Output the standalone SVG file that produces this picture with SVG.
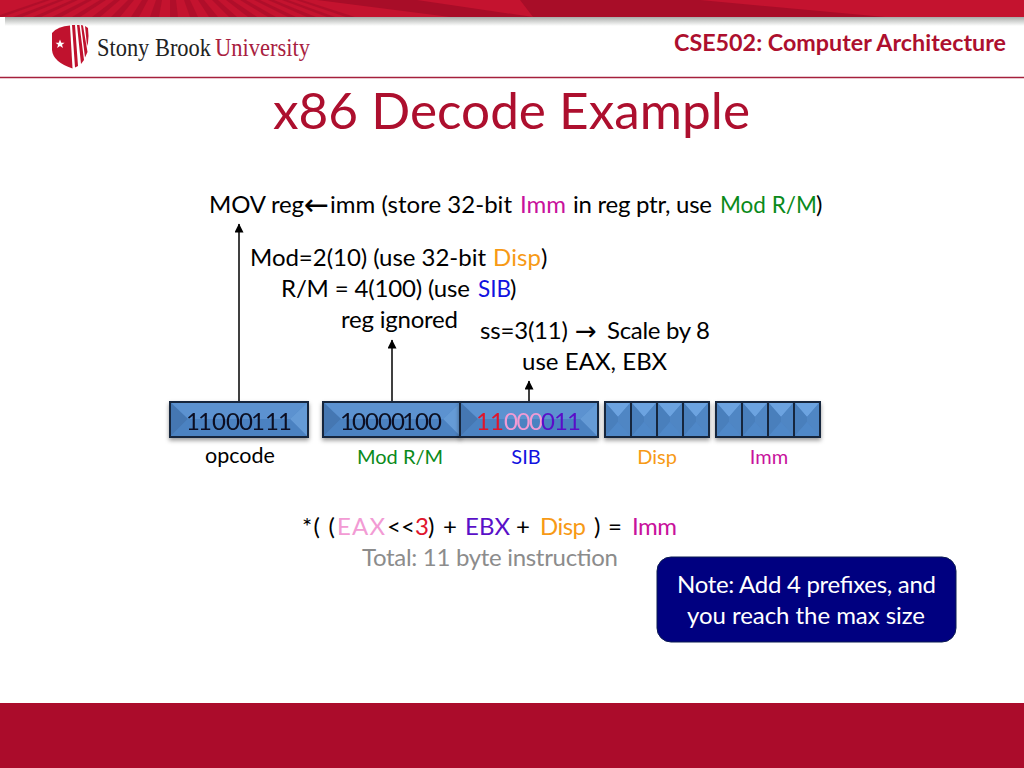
<svg xmlns="http://www.w3.org/2000/svg" width="1024" height="768" viewBox="0 0 1024 768">
<style>
.t{font-family:Lato,"Open Sans",sans-serif;font-size:24px;fill:#000}
.mid{text-anchor:middle}
.s{font-size:20px;text-anchor:middle}
.n{fill:#fff}
.h{font-family:Lato,"Open Sans",sans-serif;fill:#ad0f2e}
.b{fill:#0a1020;text-anchor:middle}
.ar{font-family:"DejaVu Sans",sans-serif}
.conn{stroke:#000;stroke-width:1.5;fill:none;marker-end:url(#ah)}
.o{fill:#f79a16}.m{fill:#c8129c}.g{fill:#0a8a1a}.bl{fill:#1212e0}.r{fill:#e0142c}.p{fill:#f29bd4}.v{fill:#5a10c8}.gr{fill:#8c8c8c}
.edge{fill:none;stroke:#14263c;stroke-width:2}
</style>
<defs>
<marker id="ah" markerUnits="userSpaceOnUse" markerWidth="10" markerHeight="10" refX="8.500" refY="4.500" orient="auto"><path d="M0 0L9 4.500L0 9z" fill="#000"/></marker>
<linearGradient id="shadow" x1="0" y1="0" x2="0" y2="1"><stop offset="0" stop-color="#a8aaa8"/><stop offset="0.35" stop-color="#c8cac8"/><stop offset="1" stop-color="#fff"/></linearGradient>
<filter id="ds" x="-10%" y="-10%" width="120%" height="140%"><feDropShadow dx="0" dy="2.500" stdDeviation="2" flood-color="#000" flood-opacity="0.4"/></filter>
<g id="c"><rect width="26" height="35" fill="#4f86c5"/><path d="M0 0H26L13 15z" fill="#6ca3e0"/><path d="M0 0L13 15V20L0 35z" fill="#4a7fbc"/><path d="M26 0L13 15V20L26 35z" fill="#4f86c4"/><path d="M0 35L13 20L26 35z" fill="#5088c8"/><rect width="26" height="35" class="edge"/></g>
<g id="w"><rect width="138" height="35" fill="#4f86c6"/><path d="M0 0H138L120 17H18z" fill="#5b92d0"/><path d="M0 0L18 17L0 35z" fill="#4577b2"/><path d="M138 0L120 17L138 35z" fill="#659bd6"/><path d="M0 35L18 17H120L138 35z" fill="#4c82c1"/></g>
</defs>
<rect width="1024" height="768" fill="#fff"/>
<g id="banner">
<rect x="5" y="17" width="1019" height="9" fill="url(#shadow)"/>
<rect width="1024" height="17" fill="#c4132f"/>
<path d="M317 0H417L533 17H450zM520 0H700L885 17H533z" fill="#a80d28"/>
<path d="M44 0H50L2 17H-6zM58 0H64L22 17H13zM72 0H78L41 17H33zM86 0H92L61 17H52zM100 0H106L80 17H72zM114 0H120L100 17H92zM128 0H134L120 17H111zM142 0H148L139 17H131zM156 0H162L159 17H150zM170 0H176L178 17H170zM184 0H190L198 17H190zM198 0H204L218 17H209zM212 0H218L237 17H229zM226 0H232L257 17H248zM240 0H246L276 17H268zM254 0H260L296 17H288zM268 0H274L316 17H307zM282 0H288L335 17H327zM296 0H302L355 17H346z" fill="#a80d28" opacity="0.7"/>
</g>
<path d="M0 77.500H1024" stroke="#a5203c" stroke-width="1.500"/>
<g id="logo">
<path d="M52 33Q58 26 70 25.500L72.500 68.500Q53 62 52 50z" fill="#c0122e"/>
<path d="M72 25H75L78 66L75 67.500zM77 25H79.500L84 60L81 64zM81 25L83 25.500L87.500 52L85 57.500zM85 26L88 28Q89 36 88 43L87 46z" fill="#c0122e"/>
<path d="M60 39.500l1.300 3.200h3.300l-2.600 2.100 1 3.300-3-2-2.900 2 1-3.300-2.600-2.100h3.200z" fill="#fff"/>
<text x="97" y="55.500" font-family="Liberation Serif,serif" font-size="25" fill="#222" textLength="114" lengthAdjust="spacingAndGlyphs">Stony Brook</text>
<text x="215" y="55.500" font-family="Liberation Serif,serif" font-size="25" fill="#a8203e" textLength="95" lengthAdjust="spacingAndGlyphs">University</text>
</g>
<text id="course" class="h" x="674" y="51" font-size="23" font-weight="700" textLength="332" lengthAdjust="spacingAndGlyphs">CSE502: Computer Architecture</text>
<text id="title" class="h" x="273" y="129" font-size="50" textLength="477" lengthAdjust="spacingAndGlyphs">x86 Decode Example</text>
<g id="connectors">
<path class="conn" d="M239 402V224"/>
<path class="conn" d="M392 402V340"/>
<path class="conn" d="M529 402V381"/>
</g>
<g id="labels">
<text class="t" y="213"><tspan x="209" textLength="95">MOV reg</tspan><tspan class="ar" x="304" y="215" font-size="30">←</tspan><tspan x="330" y="213" textLength="182">imm (store 32-bit</tspan><tspan class="m" x="520" textLength="46">Imm</tspan><tspan x="573" textLength="139">in reg ptr, use</tspan><tspan class="g" x="720" style="font-size:22.500px">Mod R/M</tspan><tspan x="816">)</tspan></text>
<text class="t" y="266"><tspan x="250" textLength="236">Mod=2(10) (use 32-bit</tspan><tspan class="o" x="493" textLength="48">Disp</tspan><tspan x="541">)</tspan></text>
<text class="t" y="297"><tspan x="281" textLength="189">R/M = 4(100) (use</tspan><tspan class="bl" x="478" style="font-size:22.500px">SIB</tspan><tspan x="510">)</tspan></text>
<text class="t" x="341" y="328" textLength="117">reg ignored</text>
<text class="t" y="339"><tspan x="480" textLength="88">ss=3(11)</tspan><tspan class="ar" x="575" y="340" font-size="26">→</tspan><tspan x="607" y="339" textLength="103">Scale by 8</tspan></text>
<text class="t" x="522" y="370" textLength="145">use EAX, EBX</text>
</g>
<g id="opcode" filter="url(#ds)"><use href="#w" x="170" y="402"/><rect x="170" y="402" width="138" height="35" class="edge"/><text class="t b" y="430" x="193 205 219 233 246 258 272 285">11000111</text></g>
<g id="modrm" filter="url(#ds)"><use href="#w" x="323" y="402"/><rect x="323" y="402" width="137" height="35" class="edge"/><text class="t b" y="430" x="347 359 372 385 398 409 422 435">10000100</text></g>
<g id="sib" filter="url(#ds)"><use href="#w" x="460" y="402"/><rect x="460" y="402" width="138" height="35" class="edge"/><text class="t b" y="430"><tspan class="r" x="483 497">11</tspan><tspan class="p" x="511 523.500 536">000</tspan><tspan class="v" x="548 561 574">011</tspan></text></g>
<g id="disp" filter="url(#ds)"><use href="#c" x="605" y="402"/><use href="#c" x="631" y="402"/><use href="#c" x="657" y="402"/><use href="#c" x="683" y="402"/></g>
<g id="imm" filter="url(#ds)"><use href="#c" x="716" y="402"/><use href="#c" x="742" y="402"/><use href="#c" x="768" y="402"/><use href="#c" x="794" y="402"/></g>
<text class="t s" x="240" y="463" style="font-size:21.500px">opcode</text>
<text class="t s g" x="400" y="464">Mod R/M</text>
<text class="t s bl" x="526" y="464">SIB</text>
<text class="t s o" x="657" y="464">Disp</text>
<text class="t s m" x="769" y="464">Imm</text>
<text class="t" y="535"><tspan x="302" textLength="33">*( (</tspan><tspan class="p" x="337" textLength="48">EAX</tspan><tspan x="387">&lt;&lt;</tspan><tspan class="r" x="415">3</tspan><tspan x="428" textLength="29">) +</tspan><tspan class="v" x="465" textLength="45">EBX</tspan><tspan x="516">+</tspan><tspan class="o" x="540" textLength="46">Disp</tspan><tspan x="594" textLength="28">) =</tspan><tspan class="m" x="632" textLength="45">Imm</tspan></text>
<text class="t gr" x="362" y="566" textLength="256">Total: 11 byte instruction</text>
<g id="note"><rect x="657" y="557" width="299" height="85" rx="14" fill="#000080" stroke="#0a1a50"/><text class="t n" x="677" y="593" textLength="259">Note: Add 4 prefixes, and</text><text class="t n" x="687" y="624" textLength="238">you reach the max size</text></g>
<rect id="footer" y="703" width="1024" height="65" fill="#ab0c2b"/>
</svg>
